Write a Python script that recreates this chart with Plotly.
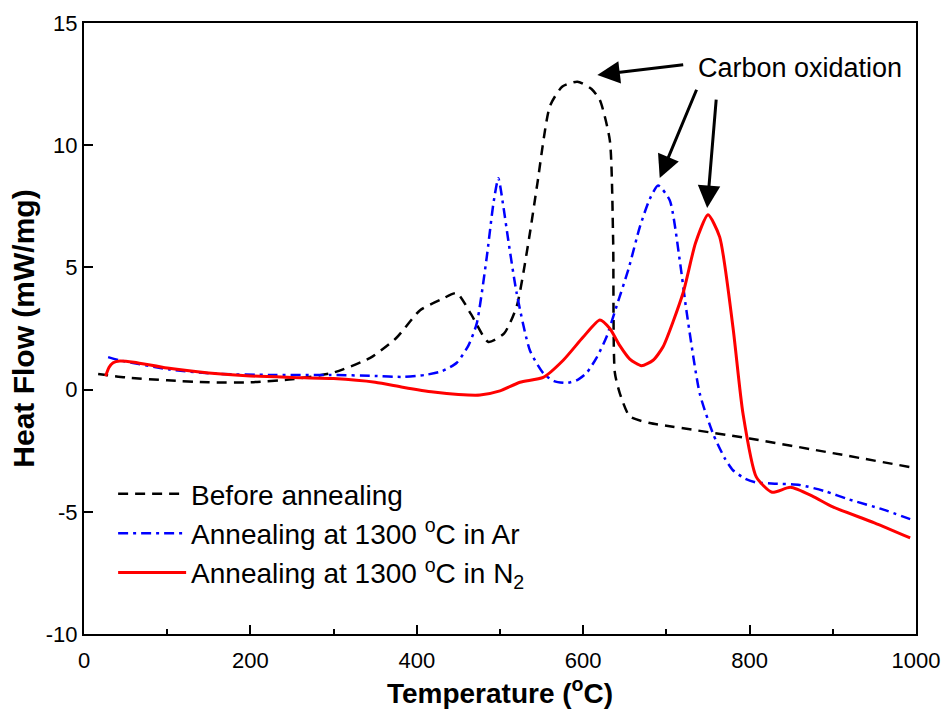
import plotly.graph_objects as go

# DSC heat-flow curves (temperature in °C, heat flow in mW/mg)
before_T = [17, 50, 100, 150, 200, 250, 300, 344, 375, 404, 430, 448, 465, 486, 505, 520,
            535, 545, 560, 575, 593, 610, 620, 632, 636, 638, 644, 656, 680, 700, 800, 900, 993]
before_hf = [0.64, 0.5, 0.38, 0.3, 0.3, 0.42, 0.7, 1.3, 2.1, 3.25, 3.7, 3.95, 3.1, 1.95, 2.3, 3.4,
             6.2, 8.45, 11.6, 12.4, 12.6, 12.3, 11.85, 10.2, 6.1, 0.7, -0.15, -1.1, -1.37, -1.48, -2.0, -2.6, -3.17]

ar_T = [29, 43, 103, 163, 224, 296, 350, 383, 410, 430, 448, 462, 472, 484, 492, 498, 504, 510,
        520, 536, 552, 565, 580, 592, 604, 616, 628, 640, 655, 668, 680, 690, 704, 716, 724, 740,
        756, 770, 780, 795, 808, 830, 860, 890, 920, 960, 993]
ar_hf = [1.33, 1.2, 0.82, 0.64, 0.6, 0.6, 0.56, 0.52, 0.6, 0.75, 1.1, 1.8, 2.7, 5.4, 7.6, 8.65, 7.5, 6.1,
         3.95, 1.6, 0.67, 0.35, 0.27, 0.38, 0.68, 1.3, 2.15, 3.4, 5.0, 6.65, 7.8, 8.35, 7.75, 5.3, 3.25, -0.15,
         -1.8, -2.8, -3.3, -3.65, -3.8, -3.85, -3.9, -4.15, -4.5, -4.9, -5.3]

n2_T = [26, 30, 35, 43, 60, 100, 150, 200, 250, 300, 350, 383, 420, 450, 476, 500, 524, 552, 576,
        600, 620, 632, 644, 656, 670, 684, 696, 720, 735, 750, 764, 780, 792, 808, 827, 849, 875, 900, 950, 993]
n2_hf = [0.55, 0.9, 1.1, 1.17, 1.12, 0.88, 0.68, 0.56, 0.5, 0.45, 0.3, 0.1, -0.1, -0.2, -0.22, -0.05, 0.3, 0.5, 1.2,
         2.15, 2.85, 2.5, 1.8, 1.25, 0.98, 1.2, 1.75, 3.95, 6.0, 7.15, 6.25, 2.55, -0.97, -3.57, -4.2, -4.0,
         -4.35, -4.8, -5.45, -6.07]

# Arrow tips (on the oxidation peaks) and tails (near the label)
arrow_tip_T = [617, 692, 749]
arrow_tip_hf = [12.87, 8.66, 7.43]
arrow_tail_T = [722, 737, 760]
arrow_tail_hf = [13.3, 12.33, 11.93]

x_ticks = [0, 200, 400, 600, 800, 1000]
y_ticks = [-10, -5, 0, 5, 10, 15]
y_tick_text = ["-10", "-5", "0", "5", "10", "15"]

FONT = "Arial, Liberation Sans, sans-serif"

fig = go.Figure()
fig.add_trace(go.Scatter(
    x=before_T, y=before_hf, mode="lines", name="Before annealing", legendgroup="a",
    line=dict(color="black", width=2.5, dash="10px,7px", shape="spline", smoothing=0.6)))
fig.add_trace(go.Scatter(
    x=ar_T, y=ar_hf, mode="lines", name="Annealing at 1300 <sup>o</sup>C in Ar", legendgroup="b",
    line=dict(color="#0000FF", width=2.5, dash="10px,5px,3px,5px", shape="spline", smoothing=0.6)))
fig.add_trace(go.Scatter(
    x=n2_T, y=n2_hf, mode="lines", name="Annealing at 1300 <sup>o</sup>C in N<sub>2</sub>", legendgroup="c",
    line=dict(color="#FF0000", width=3, shape="spline", smoothing=0.6)))

for tx, ty, ax, ay in zip(arrow_tip_T, arrow_tip_hf, arrow_tail_T, arrow_tail_hf):
    fig.add_annotation(x=tx, y=ty, ax=ax, ay=ay, xref="x", yref="y", axref="x", ayref="y",
                       text="", showarrow=True, arrowhead=2, arrowsize=1.5, arrowwidth=3,
                       arrowcolor="black")

fig.add_annotation(x=860, y=13.15, xref="x", yref="y", text="Carbon oxidation", showarrow=False,
                   font=dict(family=FONT, size=27, color="black"))

axis_common = dict(showline=True, linecolor="black", linewidth=2, mirror=True,
                   ticks="inside", tickcolor="black", tickwidth=2, ticklen=9,
                   showgrid=False, zeroline=False, automargin=False,
                   tickfont=dict(family=FONT, size=22, color="black"))

fig.update_xaxes(range=[0, 1000], tickvals=x_ticks, ticklabelstandoff=6,
                 minor=dict(dtick=100, ticks="inside", ticklen=5, tickwidth=2, tickcolor="black"),
                 title=dict(text="<b>Temperature (<sup>o</sup>C)</b>", font=dict(family=FONT, size=28, color="black"),
                            standoff=8),
                 **axis_common)
fig.update_yaxes(range=[-10, 15], tickvals=y_ticks, ticktext=y_tick_text,
                 title=dict(text="<b>Heat Flow (mW/mg)</b>", font=dict(family=FONT, size=30, color="black"),
                            standoff=2),
                 **axis_common)

fig.update_layout(
    width=948, height=715,
    margin=dict(l=84, r=32, t=23, b=81, autoexpand=False),
    paper_bgcolor="white", plot_bgcolor="white",
    font=dict(family=FONT, color="black"),
    legend=dict(x=0.035, y=0.27, xanchor="left", yanchor="top", bgcolor="rgba(0,0,0,0)",
                font=dict(family=FONT, size=28, color="black"), tracegroupgap=4,
                itemwidth=68, traceorder="normal"),
)

fig.write_html("out.html")
